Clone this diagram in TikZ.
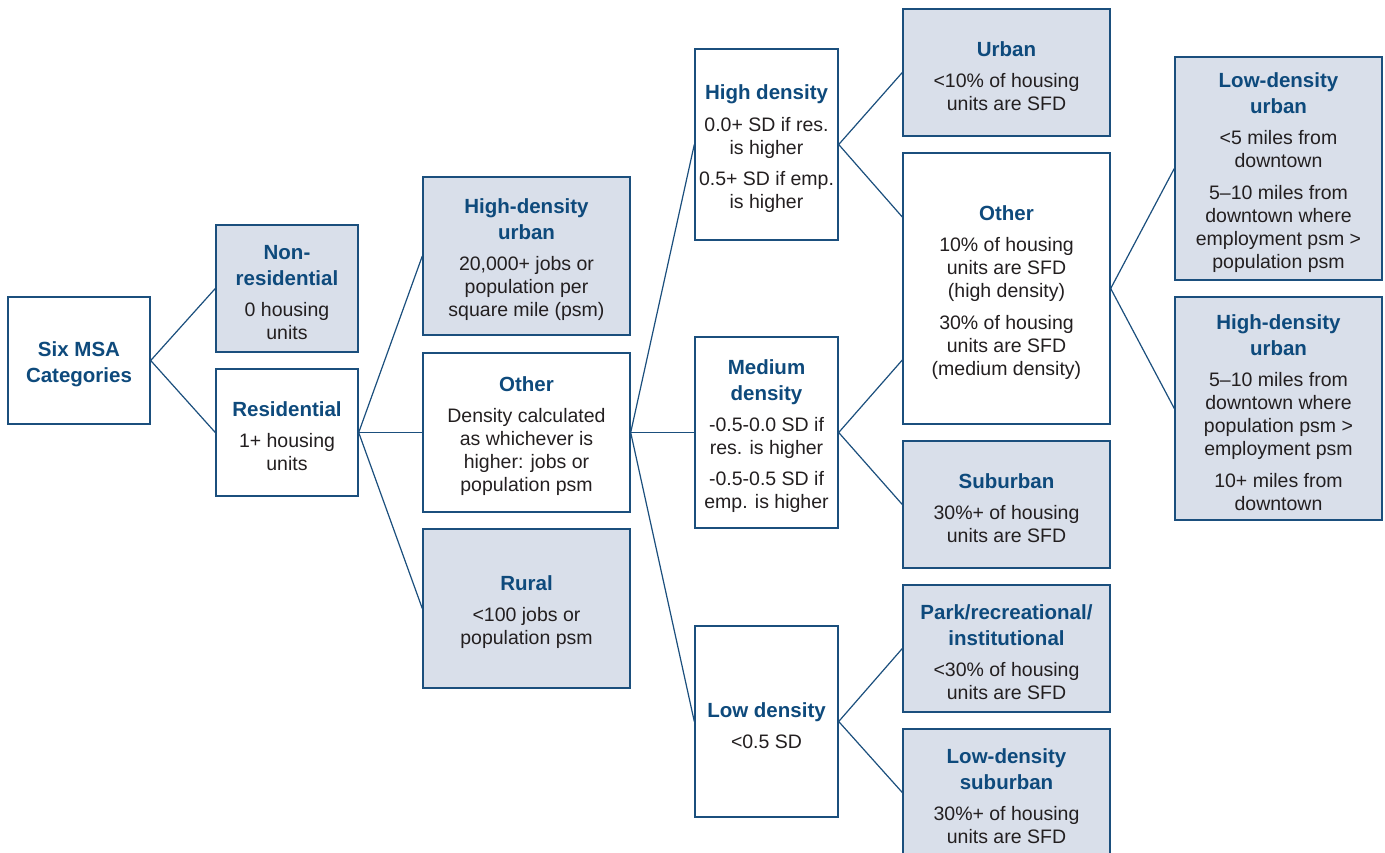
\documentclass[tikz,border=0pt]{standalone}
\usepackage{fontspec}
\setmainfont{Liberation Sans}
\definecolor{tblue}{HTML}{0E4A7C}
\definecolor{bcol}{HTML}{1B4F7D}
\definecolor{fcol}{HTML}{D9DFEA}
\definecolor{bodycol}{HTML}{231F20}
\newcommand\ttl[1]{{\fontsize{20.5}{26}\selectfont\bfseries\color{tblue}#1}}
\newcommand\ttlf[1]{\rule{0pt}{23pt}\ttl{#1}}
\begin{document}
\begin{tikzpicture}[x=1pt,y=-1pt,
  box/.style={draw=bcol, line width=1.4pt, inner sep=0pt, align=center, text=bodycol,
    font=\fontsize{19.5}{23}\selectfont},
  filled/.style={box, fill=fcol},
  small/.style={minimum width=142pt, minimum height=127pt},
  wide/.style={minimum width=207pt},
  mid/.style={minimum width=143pt, minimum height=191pt},
  link/.style={draw=bcol, line width=1.2pt}]
\clip (0,0) rectangle (1385,852);
\fill[white] (0,0) rectangle (1385,852);
% column 1
\node[box, small] (msa) at (79,360.5) {\ttlf{Six MSA}\\[3pt]\ttl{Categories}};
% column 2
\node[filled, small] (nonres) at (287,288.5) {\ttlf{Non-}\\[3pt]\ttl{residential}\\[8pt]0 housing\\units};
\node[box, small] (res) at (287,432.5) {\ttlf{Residential}\\[8pt]1+ housing\\units};
% column 3
\node[filled, wide, minimum height=158pt] (hdu3) at (526.5,256) {\ttlf{High-density}\\[3pt]\ttl{urban}\\[8pt]20,000+ jobs or\\population per\\square mile (psm)};
\node[box, wide, minimum height=159pt] (other3) at (526.5,432.5) {\ttlf{Other}\\[8pt]Density calculated\\as whichever is\\higher: jobs or\\population psm};
\node[filled, wide, minimum height=159pt] (rural) at (526.5,608.5) {\ttlf{Rural}\\[8pt]<100 jobs or\\population psm};
% column 4
\node[box, mid] (hd) at (766.5,144.5) {\ttlf{High density}\\[9pt]0.0+ SD if res.\\is higher\\[8pt]0.5+ SD if emp.\\is higher};
\node[box, mid] (md) at (766.5,432.5) {\ttlf{Medium}\\[3pt]\ttl{density}\\[8pt]-0.5-0.0 SD if\\res. is higher\\[8pt]-0.5-0.5 SD if\\emp. is higher};
\node[box, mid] (ld) at (766.5,721.5) {\ttlf{Low density}\\[8pt]<0.5 SD};
% column 5
\node[filled, wide, minimum height=127pt] (urban) at (1006.5,72.5) {\ttlf{Urban}\\[8pt]<10\% of housing\\units are SFD};
\node[box, wide, minimum height=271pt] (other5) at (1006.5,288.5) {\ttlf{Other}\\[8pt]10\% of housing\\units are SFD\\(high density)\\[9pt]30\% of housing\\units are SFD\\(medium density)};
\node[filled, wide, minimum height=127pt] (suburban) at (1006.5,504.5) {\ttlf{Suburban}\\[8pt]30\%+ of housing\\units are SFD};
\node[filled, wide, minimum height=127pt] (park) at (1006.5,648.5) {\ttlf{Park/recreational/}\\[3pt]\ttl{institutional}\\[8pt]<30\% of housing\\units are SFD};
\node[filled, wide, minimum height=127pt] (lds) at (1006.5,792.5) {\ttlf{Low-density}\\[3pt]\ttl{suburban}\\[8pt]30\%+ of housing\\units are SFD};
% column 6
\node[filled, wide, minimum height=223pt] (ldu) at (1278.5,168.5) {\ttlf{Low-density}\\[3pt]\ttl{urban}\\[8pt]<5 miles from\\downtown\\[9pt]5–10 miles from\\downtown where\\employment psm >\\population psm};
\node[filled, wide, minimum height=223pt] (hdu6) at (1278.5,408.5) {\ttlf{High-density}\\[3pt]\ttl{urban}\\[8pt]5–10 miles from\\downtown where\\population psm >\\employment psm\\[9pt]10+ miles from\\downtown};
% attachment points on the tall "Other" box
\path (other5.west) ++(0,-71.5) coordinate (o5hi);
\path (other5.west) ++(0,71.5) coordinate (o5lo);
% connectors
\draw[link] (msa.east) -- (nonres.west);
\draw[link] (msa.east) -- (res.west);
\draw[link] (res.east) -- (hdu3.west);
\draw[link] (res.east) -- (other3.west);
\draw[link] (res.east) -- (rural.west);
\draw[link] (other3.east) -- (hd.west);
\draw[link] (other3.east) -- (md.west);
\draw[link] (other3.east) -- (ld.west);
\draw[link] (hd.east) -- (urban.west);
\draw[link] (hd.east) -- (o5hi);
\draw[link] (md.east) -- (o5lo);
\draw[link] (md.east) -- (suburban.west);
\draw[link] (ld.east) -- (park.west);
\draw[link] (ld.east) -- (lds.west);
\draw[link] (other5.east) -- (ldu.west);
\draw[link] (other5.east) -- (hdu6.west);
\end{tikzpicture}
\end{document}
